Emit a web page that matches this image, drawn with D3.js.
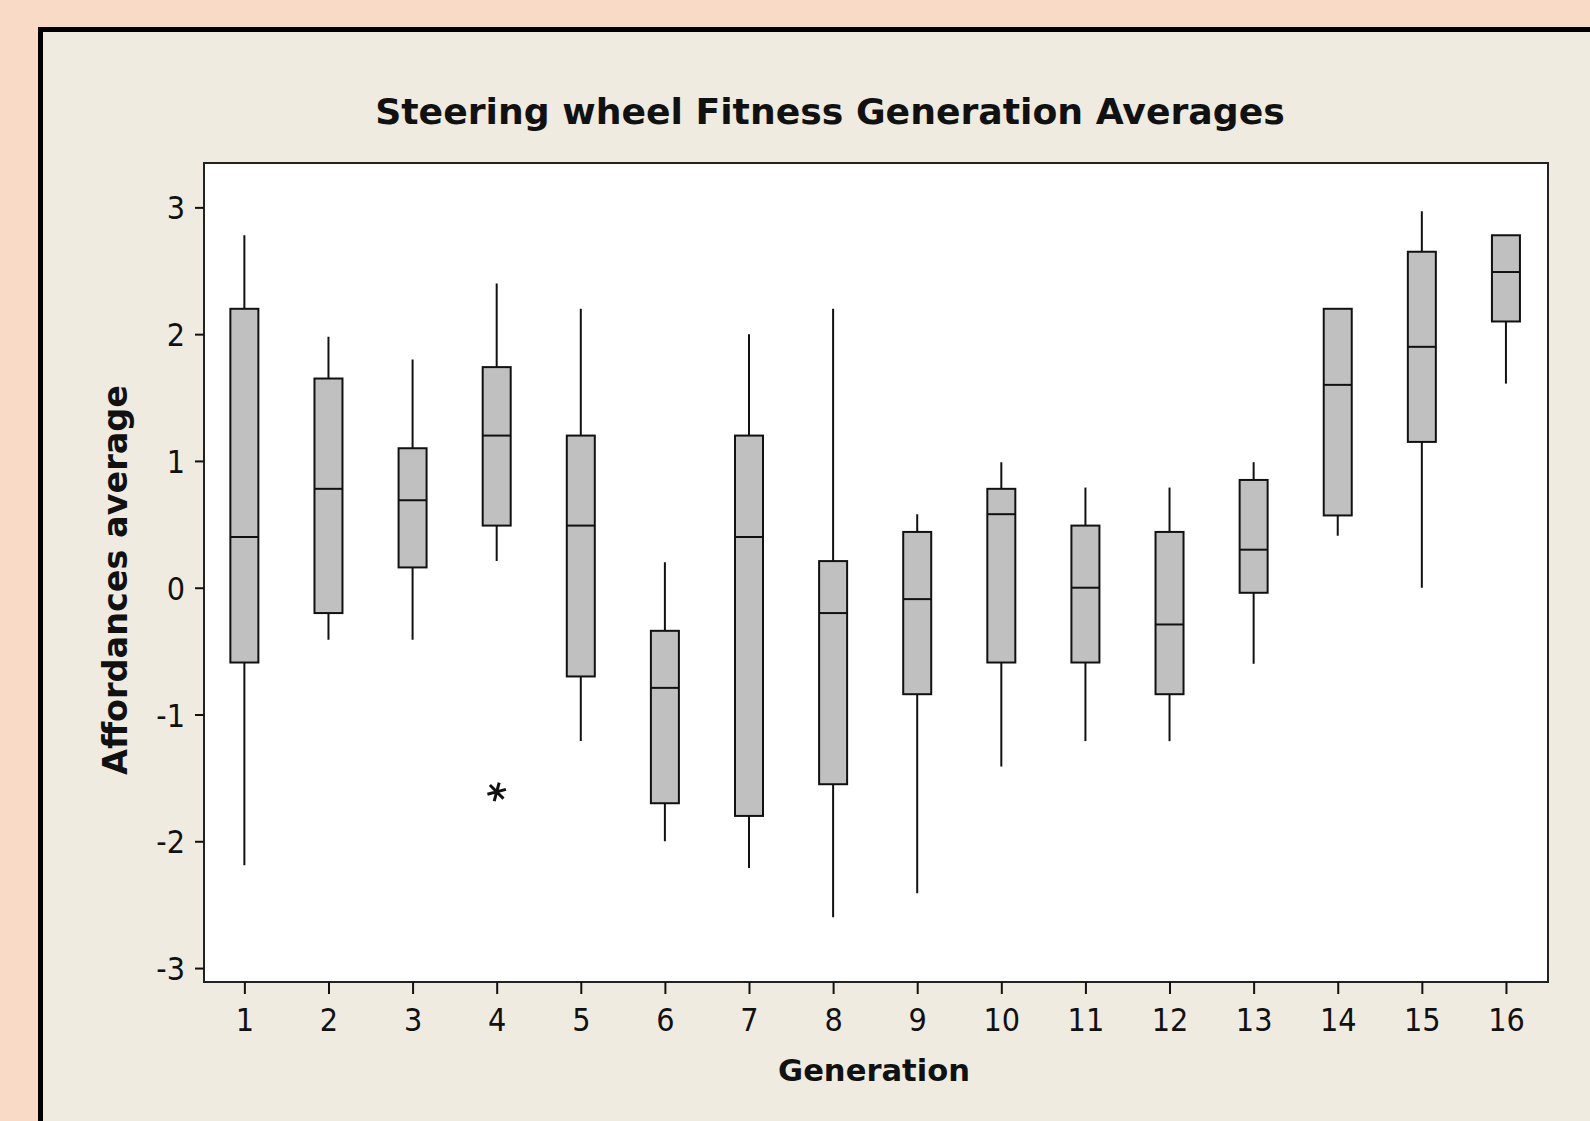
<!DOCTYPE html>
<html>
<head>
<meta charset="utf-8">
<script src="https://cdn.jsdelivr.net/npm/d3@7"></script>
<style>
  html, body { margin: 0; padding: 0; background: #f8dac7; }
  svg { display: block; }
  text { font-family: "DejaVu Sans", "Noto Sans", sans-serif; fill: #111; }
</style>
</head>
<body>
<svg id="chart"></svg>
<script>
// generation box plot stats
const generations = [1, 2, 3, 4, 5, 6, 7, 8, 9, 10, 11, 12, 13, 14, 15, 16];
const whiskerHigh = [2.78, 1.98, 1.80, 2.40, 2.20, 0.20, 2.00, 2.20, 0.58, 0.99, 0.79, 0.79, 0.99, 2.20, 2.97, 2.78];
const q3 =          [2.20, 1.65, 1.10, 1.74, 1.20, -0.34, 1.20, 0.21, 0.44, 0.78, 0.49, 0.44, 0.85, 2.20, 2.65, 2.78];
const median =      [0.40, 0.78, 0.69, 1.20, 0.49, -0.79, 0.40, -0.20, -0.09, 0.58, 0.00, -0.29, 0.30, 1.60, 1.90, 2.49];
const q1 =          [-0.59, -0.20, 0.16, 0.49, -0.70, -1.70, -1.80, -1.55, -0.84, -0.59, -0.59, -0.84, -0.04, 0.57, 1.15, 2.10];
const whiskerLow =  [-2.19, -0.41, -0.41, 0.21, -1.21, -2.00, -2.21, -2.60, -2.41, -1.41, -1.21, -1.21, -0.60, 0.41, 0.00, 1.61];
const outliers = [{ gen: 4, value: -1.61 }];
const yTicks = [-3, -2, -1, 0, 1, 2, 3];

const width = 1590, height = 1121;
const plot = { left: 204, right: 1548, top: 163, bottom: 982 };

const svg = d3.select('#chart').attr('width', width).attr('height', height);

// grey panel with the thick black frame (runs off right and bottom)
svg.append('rect')
    .attr('x', 40.5).attr('y', 29.5)
    .attr('width', width).attr('height', height)
    .style('fill', '#efebe1')
    .style('stroke', '#000')
    .style('stroke-width', 5);

const x = d3.scaleLinear().domain([0.52, 16.5]).range([plot.left, plot.right]);
const y = d3.scaleLinear().domain([-3.11, 3.35]).range([plot.bottom, plot.top]);

svg.append('rect')
    .attr('x', plot.left).attr('y', plot.top)
    .attr('width', plot.right - plot.left).attr('height', plot.bottom - plot.top)
    .style('fill', '#fff')
    .style('stroke', '#222')
    .style('stroke-width', 2);

// axes
const xAxis = d3.axisBottom(x).tickValues(generations).tickSize(12).tickSizeOuter(0).tickPadding(14);
const yAxis = d3.axisLeft(y).tickValues(yTicks).tickFormat(d => String(d))
    .tickSize(9).tickSizeOuter(0).tickPadding(10);

const gx = svg.append('g').attr('transform', 'translate(0,' + plot.bottom + ')').call(xAxis);
const gy = svg.append('g').attr('transform', 'translate(' + plot.left + ',0)').call(yAxis);
[gx, gy].forEach(g => {
    g.select('.domain').remove();
    g.selectAll('line').style('stroke', '#111').style('stroke-width', 2);
    g.selectAll('text').style('font-size', '32px').style('font-family', '"DejaVu Sans Condensed", "Noto Sans", sans-serif');
});
gy.selectAll('text').attr('dy', '0.36em');

// boxes
const boxW = 28;
const boxes = svg.append('g').selectAll('g')
    .data(generations.map((g, i) => ({ gen: g, hi: whiskerHigh[i], q3: q3[i], med: median[i], q1: q1[i], lo: whiskerLow[i] })))
    .enter().append('g');

boxes.append('line')
    .attr('x1', d => x(d.gen)).attr('x2', d => x(d.gen))
    .attr('y1', d => y(d.hi)).attr('y2', d => y(d.lo))
    .style('stroke', '#111').style('stroke-width', 2);

boxes.append('rect')
    .attr('x', d => x(d.gen) - boxW / 2)
    .attr('y', d => y(d.q3))
    .attr('width', boxW)
    .attr('height', d => y(d.q1) - y(d.q3))
    .style('fill', '#c0c0c0')
    .style('stroke', '#111').style('stroke-width', 2);

boxes.append('line')
    .attr('x1', d => x(d.gen) - boxW / 2).attr('x2', d => x(d.gen) + boxW / 2)
    .attr('y1', d => y(d.med)).attr('y2', d => y(d.med))
    .style('stroke', '#111').style('stroke-width', 2);

svg.append('g').selectAll('path')
    .data(outliers)
    .enter().append('path')
    .attr('d', d3.symbol(d3.symbolAsterisk, 260))
    .attr('transform', d => 'translate(' + x(d.gen) + ',' + y(d.value) + ') rotate(15)')
    .style('fill', 'none').style('stroke', '#111').style('stroke-width', 3);

// titles, fitted to the widths seen in the picture
function fitText(sel, target) {
    const w = sel.node().getComputedTextLength();
    const fs = parseFloat(sel.style('font-size'));
    sel.style('font-size', (fs * target / w) + 'px');
}

const title = svg.append('text')
    .attr('x', 830).attr('y', 124)
    .attr('text-anchor', 'middle')
    .style('font-weight', 'bold').style('font-size', '38px')
    .text('Steering wheel Fitness Generation Averages');
fitText(title, 910);

const xTitle = svg.append('text')
    .attr('x', 874).attr('y', 1081)
    .attr('text-anchor', 'middle')
    .style('font-weight', 'bold').style('font-size', '34px')
    .text('Generation');
fitText(xTitle, 192);

const yTitle = svg.append('text')
    .attr('transform', 'translate(127,580) rotate(-90)')
    .attr('text-anchor', 'middle')
    .style('font-weight', 'bold').style('font-size', '34px')
    .text('Affordances average');
fitText(yTitle, 390);
</script>
</body>
</html>
